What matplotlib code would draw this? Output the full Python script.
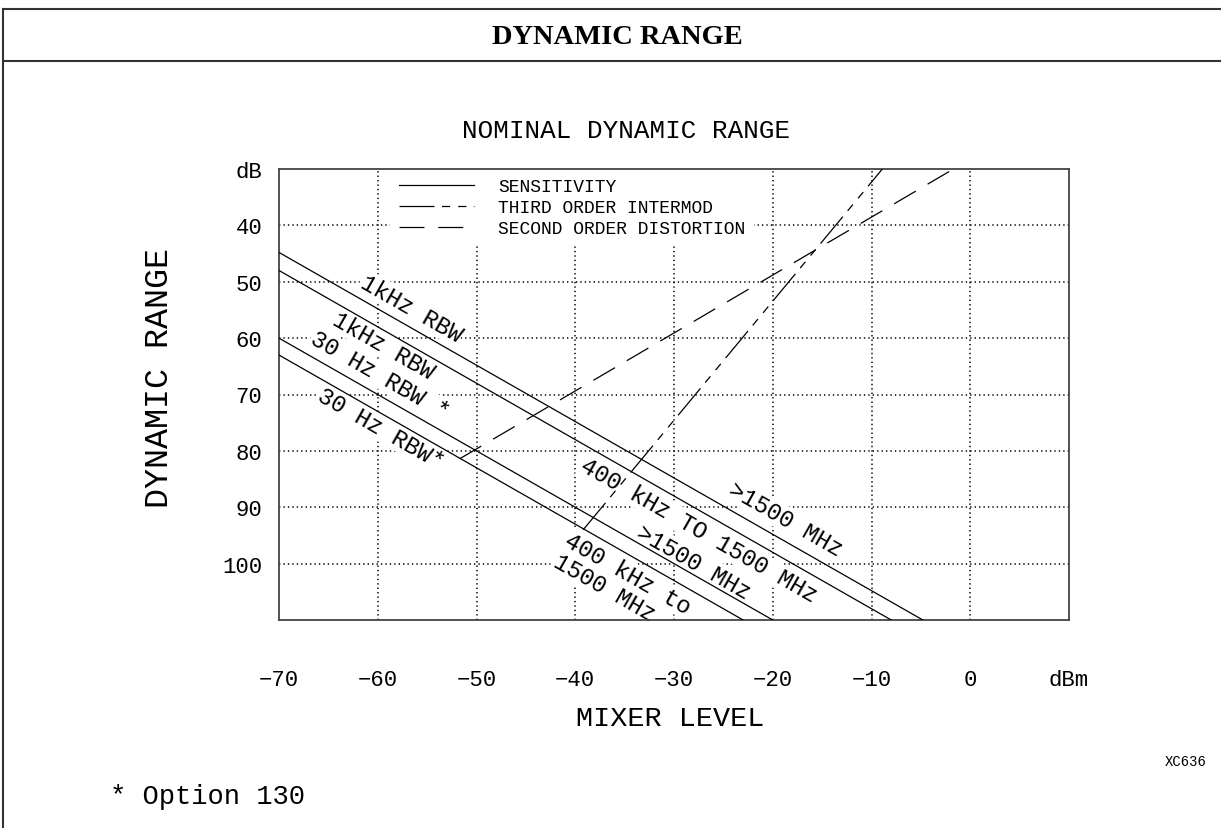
import numpy as np
import matplotlib
matplotlib.use('Agg')
import matplotlib.pyplot as plt
from matplotlib.lines import Line2D

# sensitivity lines, end points (mixer level dBm, dynamic range dB)
sens_x = [[-70, -4.8], [-70, -8.0], [-70, -20.0], [-70, -23.0]]
sens_db = [[44.8, 110], [48.0, 110], [60.0, 110], [63.0, 110]]

# third order intermod and second order distortion
toi_x = [-39.2, -8.9]
toi_db = [94.0, 30.0]
sod_x = [-51.7, -1.7]
sod_db = [81.4, 30.0]

x_ticks = [-70, -60, -50, -40, -30, -20, -10, 0, 10]
x_ticklabels = ['\u221270', '\u221260', '\u221250', '\u221240', '\u221230',
                '\u221220', '\u221210', '0', 'dBm']
y_ticks = [30, 40, 50, 60, 70, 80, 90, 100]
y_ticklabels = ['dB', '40', '50', '60', '70', '80', '90', '100']

legend_labels = ['SENSITIVITY', 'THIRD ORDER INTERMOD', 'SECOND ORDER DISTORTION']

# labels along the sensitivity lines (text, x, y)
line_labels = [
    ('1kHz RBW', -56.6, 54.7),
    ('1kHz RBW', -59.4, 61.3),
    ('30 Hz RBW *', -59.8, 66.6),
    ('30 Hz RBW*', -59.7, 76.0),
    ('>1500 MHz', -18.7, 92.1),
    ('400 kHz TO 1500 MHz', -27.5, 94.1),
    ('>1500 MHz', -28.0, 99.6),
    ('400 kHz to', -34.7, 101.7),
    ('1500 MHz', -37.1, 104.2),
]

FONT = 'Liberation Mono'
W, H = 1221, 829

fig = plt.figure(figsize=(W / 100, H / 100), dpi=100)
ax = fig.add_axes([279 / W, 1 - 621 / H, 790 / W, 451 / H])
ax.set_xlim(-70, 10)
ax.set_ylim(110, 30)

# dotted grid
for gx in x_ticks[1:-1]:
    ax.axvline(gx, color='black', lw=1.1, ls=(0, (0.9, 2.0)), zorder=0.5)
for gy in y_ticks[1:]:
    ax.axhline(gy, color='black', lw=1.1, ls=(0, (0.9, 2.0)), zorder=0.5)

handles = []
for i, (xs, ys) in enumerate(zip(sens_x, sens_db)):
    ln, = ax.plot(xs, ys, color='black', lw=0.9, zorder=3)
    if i == 0:
        handles.append(ln)
ln, = ax.plot(toi_x, toi_db, color='black', lw=0.9, zorder=3,
              ls=(0, (28, 6, 6.5, 6.5, 6.5, 6)))
handles.append(ln)
ln, = ax.plot(sod_x, sod_db, color='black', lw=0.9, zorder=3,
              ls=(0, (20, 11)))
handles.append(ln)

leg = ax.legend(handles, legend_labels, loc='upper left', bbox_to_anchor=(0.14, 1.0),
                borderaxespad=0, borderpad=0.5, handlelength=4.2, handletextpad=1.3,
                labelspacing=0.22, frameon=True, fancybox=False, framealpha=1,
                facecolor='white', edgecolor='none',
                prop={'family': FONT, 'size': 13})
leg.set_zorder(2)

# text along the lines
ang = ax.transData.transform_angles(np.array([45.0]), np.array([[-40.0, 70.0]]))[0]
for txt, tx, ty in line_labels:
    ax.text(tx, ty, txt, rotation=ang, rotation_mode='anchor', ha='center', va='center',
            family=FONT, fontsize=17, zorder=2,
            bbox=dict(boxstyle='square,pad=0.05', fc='white', ec='none'))

ax.set_xticks(x_ticks)
ax.set_xticklabels(x_ticklabels, family=FONT, fontsize=16)
ax.set_yticks(y_ticks)
ax.set_yticklabels(y_ticklabels, family=FONT, fontsize=16)
ax.tick_params(axis='x', length=0, pad=35)
ax.tick_params(axis='y', length=0, pad=12)
for sp in ax.spines.values():
    sp.set_color('#444444')
    sp.set_linewidth(1.3)

fig.text(626 / W, 1 - 131 / H, 'NOMINAL DYNAMIC RANGE', ha='center', va='center',
         family=FONT, fontsize=18.7)
fig.text(670 / W, 1 - 719 / H, 'MIXER LEVEL', ha='center', va='center',
         family=FONT, fontsize=20.5)
fig.text(160 / W, 1 - 378 / H, 'DYNAMIC RANGE', ha='center', va='center',
         rotation=90, family=FONT, fontsize=24)
fig.text(110 / W, 1 - 797 / H, '* Option 130', ha='left', va='center',
         family=FONT, fontsize=19.5)
fig.text(1207 / W, 1 - 762 / H, 'XC636', ha='right', va='center',
         family=FONT, fontsize=10)

# header frame
for (x0, y0, x1, y1) in [(3, 10, W, 10), (3, 62, W, 62), (3, 10, 3, H)]:
    fig.add_artist(Line2D([x0 / W, x1 / W], [1 - y0 / H, 1 - y1 / H],
                          transform=fig.transFigure, color='#333333', lw=1.5))
fig.text(617 / W, 1 - 37 / H, 'DYNAMIC RANGE', ha='center', va='center',
         family='Liberation Serif', fontweight='bold', fontsize=20.5)

fig.savefig('out.png', dpi=100)
